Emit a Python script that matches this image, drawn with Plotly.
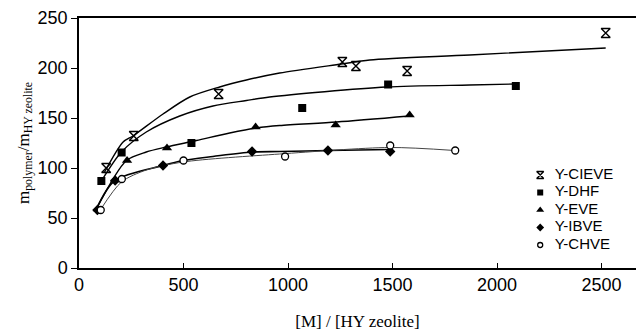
import plotly.graph_objects as go

# Measured uptake: polymer mass per zeolite mass vs monomer/zeolite ratio
cieve_x = [130, 262, 668, 1260, 1325, 1570, 2520]
cieve_y = [100, 132, 174, 206, 202, 197, 235]
dhf_x = [107, 204, 538, 1068, 1479, 2090]
dhf_y = [87, 115.5, 125, 160, 183.5, 182]
eve_x = [91, 173, 230, 421, 845, 1228, 1582]
eve_y = [59, 88, 107.5, 120, 141, 143, 153]
ibve_x = [88, 173, 402, 828, 1191, 1489]
ibve_y = [58, 87.5, 102.5, 116.5, 117.5, 116.5]
chve_x = [104, 205, 500, 986, 1489, 1800]
chve_y = [58, 89, 107.5, 111.5, 122.5, 117.5]

# Fitted trend curves for each series
cieve_fit_x = [120, 211, 258, 402, 530, 673, 801, 960, 1255, 1391, 1869, 2520]
cieve_fit_y = [95, 126, 132, 154, 171, 181, 188, 195, 204, 208, 213, 220]
dhf_fit_x = [107, 203, 322, 482, 641, 801, 912, 1471, 1869, 2090]
dhf_fit_y = [87, 116, 136, 152, 162, 167.5, 171, 181, 183, 184]
eve_fit_x = [83, 227, 322, 418, 562, 721, 849, 960, 1232, 1582]
eve_fit_y = [59, 107.5, 116, 121, 127.5, 135, 140, 142.5, 146, 152]
ibve_fit_x = [83, 171, 402, 498, 641, 825, 960, 1191, 1487]
ibve_fit_y = [59, 87.5, 102.5, 107.5, 111.5, 116, 116.5, 117.5, 118.5]
chve_fit_x = [102, 203, 322, 498, 960, 1487, 1798]
chve_fit_y = [58, 86, 98, 106, 114, 120.5, 117.5]

names = ["Y-CIEVE", "Y-DHF", "Y-EVE", "Y-IBVE", "Y-CHVE"]
x_ticks = [0, 500, 1000, 1500, 2000, 2500]
y_ticks = [0, 50, 100, 150, 200, 250]

SANS = "Liberation Sans, Arial, sans-serif"
SERIF = "Liberation Serif, Times New Roman, serif"

series = [
    (cieve_x, cieve_y, cieve_fit_x, cieve_fit_y,
     dict(symbol="hourglass-open", size=9, color="black", line=dict(color="black", width=1.4)),
     dict(color="black", width=1.4)),
    (dhf_x, dhf_y, dhf_fit_x, dhf_fit_y,
     dict(symbol="square", size=8, color="black"),
     dict(color="black", width=1.4)),
    (eve_x, eve_y, eve_fit_x, eve_fit_y,
     dict(symbol="triangle-up", size=9, color="black"),
     dict(color="black", width=1.4)),
    (ibve_x, ibve_y, ibve_fit_x, ibve_fit_y,
     dict(symbol="diamond", size=8, color="black"),
     dict(color="black", width=1.6)),
    (chve_x, chve_y, chve_fit_x, chve_fit_y,
     dict(symbol="circle", size=7, color="white", line=dict(color="black", width=1.3)),
     dict(color="#444444", width=1)),
]

fig = go.Figure()

for name, (sx, sy, fx, fy, mk, ln) in zip(names, series):
    fig.add_trace(go.Scatter(x=fx, y=fy, mode="lines", line=dict(shape="spline", smoothing=0.8, **ln),
                             showlegend=False, hoverinfo="skip"))
for name, (sx, sy, fx, fy, mk, ln) in zip(names, series):
    fig.add_trace(go.Scatter(x=sx, y=sy, mode="markers", marker=mk, name=name, showlegend=False))

# Compact key in its own small subplot: one row per series
key_rows = list(range(len(names)))
for row, name, (sx, sy, fx, fy, mk, ln) in zip(key_rows, names, series):
    small = dict(mk)
    small["size"] = mk["size"] - 2
    fig.add_trace(go.Scatter(x=[0], y=[row], mode="markers", marker=small,
                             xaxis="x2", yaxis="y2", showlegend=False, hoverinfo="skip"))
    fig.add_trace(go.Scatter(x=[0.13], y=[row], mode="text", text=[name], textposition="middle right",
                             textfont=dict(family=SANS, size=15, color="black"),
                             xaxis="x2", yaxis="y2", showlegend=False, hoverinfo="skip"))

fig.update_layout(
    width=636, height=331,
    margin=dict(l=79, r=0, t=18, b=63),
    paper_bgcolor="white",
    plot_bgcolor="rgba(0,0,0,0)",
    showlegend=False,
    xaxis=dict(
        range=[0, 2665], tickvals=x_ticks, ticktext=[str(v) for v in x_ticks],
        showline=True, linecolor="black", linewidth=1.5, mirror=True,
        ticks="inside", ticklen=5, tickwidth=1.3, tickcolor="black",
        showgrid=False, zeroline=False,
        tickfont=dict(family=SANS, size=18, color="black"),
        title=dict(text="[M] / [HY zeolite]", font=dict(family=SERIF, size=17, color="black"), standoff=22),
    ),
    yaxis=dict(
        range=[0, 250], tickvals=y_ticks, ticktext=[str(v) for v in y_ticks],
        showline=True, linecolor="black", linewidth=1.5,
        ticks="outside", ticklen=6, tickwidth=1.3, tickcolor="black",
        showgrid=False, zeroline=False,
        tickfont=dict(family=SANS, size=18, color="black"),
        title=dict(text="m<sub>polymer</sub>/m<sub>HY zeolite</sub>",
                   font=dict(family=SERIF, size=17, color="black"), standoff=4),
    ),
    xaxis2=dict(domain=[0.80, 1.0], range=[-0.14, 0.86], visible=False, anchor="y2", fixedrange=True),
    yaxis2=dict(domain=[0.057, 0.407], range=[4.5, -0.5], visible=False, anchor="x2", fixedrange=True),
)

fig.write_html("out.html")
